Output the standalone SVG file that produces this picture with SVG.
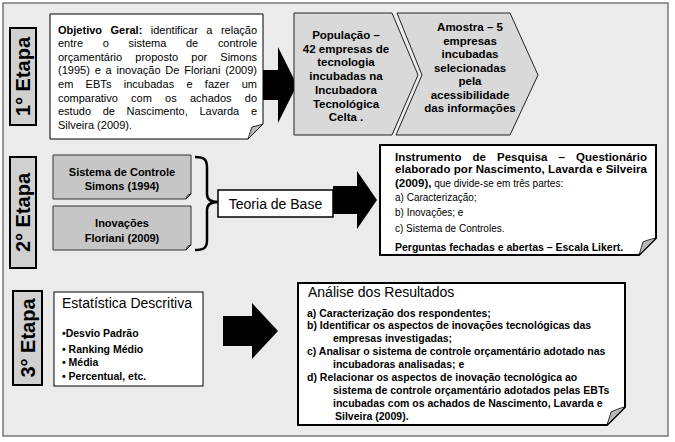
<svg xmlns="http://www.w3.org/2000/svg" width="675" height="442" viewBox="0 0 675 442">
<defs>
<style>
text{font-family:"Liberation Sans",Arial,sans-serif;fill:#000}
.stage{fill:#d0d0d0;stroke:#000;stroke-width:2}
.stxt{font-size:20px;font-weight:bold}
.obj{font-size:11px}
.b{font-weight:bold}
.chev{fill:#d9d9d9;stroke:#222;stroke-width:1}
.ctxt{font-size:11.5px;font-weight:bold;text-anchor:middle}
.gbox{fill:#c6c6c6;stroke:#333;stroke-width:1}
.gtxt{font-size:11px;font-weight:bold;text-anchor:middle}
.fold{fill:#b8b8b8;stroke:#000;stroke-width:0.8}
.arrow{fill:#000}
.big{font-size:14px}
.small{font-size:10px}
.list{font-size:10.5px;font-weight:bold}
</style>
</defs>
<rect x="3" y="3" width="665" height="433" fill="#ebebeb" stroke="#777" stroke-width="1.5"/>

<g id="connectors">
<polygon class="arrow" points="262,70 278,70 278,47 297,85 278,123 278,100 262,100"/>
<path d="M195,157 C205,157 207,160 207,168 L207,194 C207,199 210,202 218,202 C210,202 207,205 207,210 L207,240 C207,247 205,250 195,250" fill="none" stroke="#000" stroke-width="2.5"/>
<polygon class="arrow" points="333,186 357,186 357,171 377,200 357,229 357,214 333,214"/>
<polygon class="arrow" points="223,316 252,316 252,303 278,331 252,359 252,346 223,346"/>
</g>

<g id="etapa1">
<rect class="stage" x="10" y="28" width="26" height="97"/>
<text class="stxt" text-anchor="middle" transform="translate(30,76.5) rotate(-90)">1° Etapa</text>
</g>
<g id="etapa2">
<rect class="stage" x="10" y="157" width="26" height="111"/>
<text class="stxt" text-anchor="middle" transform="translate(30,212.5) rotate(-90)">2° Etapa</text>
</g>
<g id="etapa3">
<rect class="stage" x="13" y="291" width="29" height="94"/>
<text class="stxt" text-anchor="middle" transform="translate(34.5,338) rotate(-90)">3° Etapa</text>
</g>

<g id="objetivo">
<path d="M50,14 H263 V124 L248,139 H50 Z" fill="#fff" stroke="#000" stroke-width="1"/>
<path class="fold" d="M248,139 C250,133 251,129 252,127 C256,126 260,125 263,124 Z"/>
<text class="obj" x="58" y="33.5" word-spacing="5.4" textLength="199" lengthAdjust="spacing"><tspan class="b">Objetivo Geral:</tspan> identificar a relação</text>
<text class="obj" x="58" y="47.1" word-spacing="16.6" textLength="199" lengthAdjust="spacing">entre o sistema de controle</text>
<text class="obj" x="58" y="60.7" word-spacing="10.1" textLength="199" lengthAdjust="spacing">orçamentário proposto por Simons</text>
<text class="obj" x="58" y="74.3" word-spacing="1.7" textLength="199" lengthAdjust="spacing">(1995) e a inovação De Floriani (2009)</text>
<text class="obj" x="58" y="87.9" word-spacing="9.1" textLength="199" lengthAdjust="spacing">em EBTs incubadas e fazer um</text>
<text class="obj" x="58" y="101.5" word-spacing="10.2" textLength="199" lengthAdjust="spacing">comparativo com os achados do</text>
<text class="obj" x="58" y="115.1" word-spacing="8.6" textLength="199" lengthAdjust="spacing">estudo de Nascimento, Lavarda e</text>
<text class="obj" x="58" y="128.7">Silveira (2009).</text>
</g>

<g id="populacao">
<polygon class="chev" points="294,13 392,13 418,75 392,135 294,135"/>
<text class="ctxt" x="346" y="39">População –</text>
<text class="ctxt" x="346" y="52.7">42 empresas de</text>
<text class="ctxt" x="346" y="66.4">tecnologia</text>
<text class="ctxt" x="346" y="80">incubadas na</text>
<text class="ctxt" x="346" y="93.8">Incubadora</text>
<text class="ctxt" x="346" y="107.5">Tecnológica</text>
<text class="ctxt" x="346" y="121.2">Celta .</text>
</g>

<g id="amostra">
<polygon class="chev" points="397,13 510,13 538,75 510,135 396,135 422,75"/>
<text class="ctxt" x="470" y="31">Amostra – 5</text>
<text class="ctxt" x="470" y="44.5">empresas</text>
<text class="ctxt" x="470" y="58">incubadas</text>
<text class="ctxt" x="470" y="71.5">selecionadas</text>
<text class="ctxt" x="470" y="85">pela</text>
<text class="ctxt" x="470" y="98.5">acessibilidade</text>
<text class="ctxt" x="470" y="112">das informações</text>
</g>

<g id="simons">
<path class="gbox" d="M53,155 H191 V194 L186,199 H53 Z"/>
<path class="fold" d="M186,199 C187,197 187,196 188,195 L191,194 Z"/>
<text class="gtxt" x="122" y="176">Sistema de Controle</text>
<text class="gtxt" x="122" y="190">Simons (1994)</text>
</g>

<g id="floriani">
<path class="gbox" d="M53,206 H191 V245 L186,250 H53 Z"/>
<path class="fold" d="M186,250 C187,248 187,247 188,246 L191,245 Z"/>
<text class="gtxt" x="122" y="227">Inovações</text>
<text class="gtxt" x="122" y="242">Floriani (2009)</text>
</g>

<g id="teoria">
<rect x="218" y="190" width="115" height="27" fill="#fff" stroke="#000" stroke-width="1.5"/>
<text class="big" x="275.5" y="209" text-anchor="middle">Teoria de Base</text>
</g>

<g id="instrumento">
<path d="M380,145 H656 V238 L639,255 H380 Z" fill="#fff" stroke="#000" stroke-width="2"/>
<path class="fold" d="M639,255 C641,249 642,245 643,242 C647,240 652,239 656,238 Z"/>
<text class="b" x="395" y="160.8" font-size="11.5" word-spacing="7.9" textLength="252" lengthAdjust="spacing">Instrumento de Pesquisa – Questionário</text>
<text class="b" x="395" y="173.4" font-size="11.5" textLength="252" lengthAdjust="spacing">elaborado por Nascimento, Lavarda e Silveira</text>
<text x="395" y="186.8"><tspan class="b" font-size="11.5">(2009),</tspan><tspan class="small"> que divide-se em três partes:</tspan></text>
<text class="small" x="395" y="200.5">a) Caracterização;</text>
<text class="small" x="395" y="216.2">b) Inovações; e</text>
<text class="small" x="395" y="231.8">c) Sistema de Controles.</text>
<text class="b" x="395" y="250.5" font-size="10.5">Perguntas fechadas e abertas – Escala Likert.</text>
</g>

<g id="estatistica">
<rect x="54" y="292" width="149" height="94" fill="#fff" stroke="#000" stroke-width="1"/>
<text class="big" x="62" y="308">Estatística Descritiva</text>
<text class="list" x="62" y="337">•Desvio Padrão</text>
<text class="list" x="62" y="353">• Ranking Médio</text>
<text class="list" x="62" y="366">• Média</text>
<text class="list" x="62" y="380">• Percentual, etc.</text>
</g>

<g id="analise">
<path d="M298,283 H625 V407 L607,425 H298 Z" fill="#fff" stroke="#000" stroke-width="2"/>
<path class="fold" d="M607,425 C609,419 610,415 611,412 C615,410 620,408 625,407 Z"/>
<text class="big" x="308" y="297">Análise dos Resultados</text>
<text class="list" x="307" y="316.5">a) Caracterização dos respondentes;</text>
<text class="list" x="307" y="329.4">b) Identificar os aspectos de inovações tecnológicas das</text>
<text class="list" x="333" y="342.3">empresas investigadas;</text>
<text class="list" x="307" y="355.2">c) Analisar o sistema de controle orçamentário adotado nas</text>
<text class="list" x="333" y="368.1">incubadoras analisadas; e</text>
<text class="list" x="307" y="381">d) Relacionar os aspectos de inovação tecnológica ao</text>
<text class="list" x="333" y="393.9">sistema de controle orçamentário adotados pelas EBTs</text>
<text class="list" x="333" y="406.8">incubadas com os achados de Nascimento, Lavarda e</text>
<text class="list" x="335" y="419.7">Silveira (2009).</text>
</g>
</svg>
